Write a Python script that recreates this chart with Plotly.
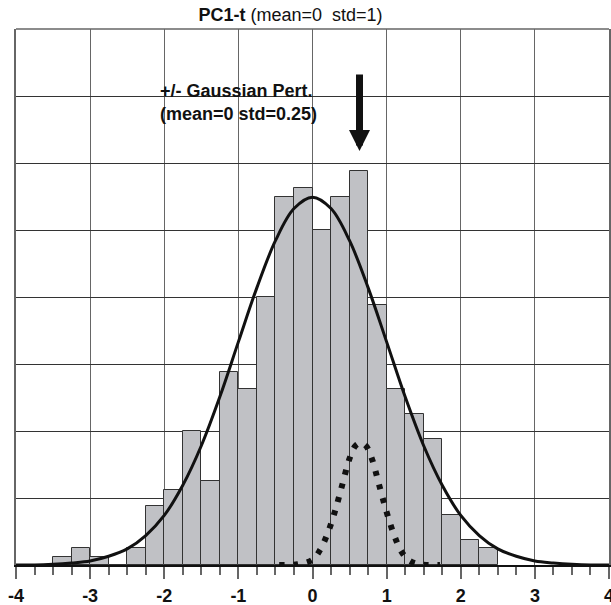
import plotly.graph_objects as go

# Histogram bins (left edges, width 0.25) and bar heights (grid units)
bin_left = [-3.5, -3.25, -3.0, -2.75, -2.5, -2.25, -2.0, -1.75, -1.5, -1.25, -1.0, -0.75,
            -0.5, -0.25, 0.0, 0.25, 0.5, 0.75, 1.0, 1.25, 1.5, 1.75, 2.0, 2.25]
bar_heights = [0.125, 0.25, 0.125, 0.0, 0.25, 0.875, 1.125, 2.0, 1.25, 2.875, 2.625, 4.0,
               5.5, 5.625, 5.0, 5.5, 5.875, 3.875, 2.625, 2.25, 1.875, 0.75, 0.375, 0.25]

# Fitted normal curve (mean=0 std=1)
curve_x = [-4.0, -3.75, -3.5, -3.25, -3.0, -2.75, -2.5, -2.25, -2.0, -1.75, -1.5, -1.25, -1.0,
           -0.75, -0.5, -0.25, 0.0, 0.25, 0.5, 0.75, 1.0, 1.25, 1.5, 1.75, 2.0, 2.25, 2.5,
           2.75, 3.0, 3.25, 3.5, 3.75, 4.0]
curve_y = [0.0, 0.0, 0.01, 0.03, 0.06, 0.13, 0.24, 0.44, 0.74, 1.19, 1.78, 2.51, 3.33,
           4.14, 4.84, 5.32, 5.49, 5.32, 4.84, 4.14, 3.33, 2.51, 1.78, 1.19, 0.74, 0.44, 0.24,
           0.13, 0.06, 0.03, 0.01, 0.0, 0.0]

# Gaussian perturbation curve (dotted)
pert_x = [-0.45, -0.2, 0.0, 0.1, 0.2, 0.3, 0.4, 0.5, 0.58, 0.65, 0.72, 0.8, 0.9, 1.0,
          1.1, 1.2, 1.3, 1.45, 1.72]
pert_y = [0.0, 0.01, 0.08, 0.22, 0.46, 0.79, 1.19, 1.59, 1.78, 1.82, 1.78, 1.59, 1.19, 0.79,
          0.45, 0.2, 0.07, 0.01, 0.0]

x_ticks = [-4, -3, -2, -1, 0, 1, 2, 3, 4]
x_tick_labels = ["-4", "-3", "-2", "-1", "0", "1", "2", "3", "4"]

arrow_x = 0.634
arrow_tip_y = 6.18

FONT = "Liberation Sans, Arial, sans-serif"

fig = go.Figure()
fig.add_trace(go.Bar(
    x=bin_left, y=bar_heights, width=0.25, offset=0,
    marker=dict(color="#c0c1c5", line=dict(color="#333333", width=1)),
    showlegend=False, hoverinfo="skip"))
fig.add_trace(go.Scatter(
    x=curve_x, y=curve_y, mode="lines",
    line=dict(color="#111111", width=3, shape="spline", smoothing=1),
    showlegend=False, hoverinfo="skip"))
fig.add_trace(go.Scatter(
    x=pert_x, y=pert_y, mode="lines",
    line=dict(color="#111111", width=6, shape="spline", smoothing=1, dash="5px,9px"),
    showlegend=False, hoverinfo="skip"))

fig.update_layout(
    width=611, height=605,
    margin=dict(l=16, r=2, t=29, b=40, pad=0, autoexpand=False),
    paper_bgcolor="white", plot_bgcolor="white",
    bargap=0,
    font=dict(family=FONT, size=18, color="#111111"),
    title=dict(text="<b>PC1-t</b> (mean=0&nbsp;&nbsp;std=1)",
               x=290.5 / 611, xanchor="center", xref="container",
               y=1 - 15 / 605, yanchor="middle", yref="container",
               font=dict(family=FONT, size=18, color="#111111")),
    xaxis=dict(range=[-4, 4], tickmode="array", tickvals=x_ticks, ticktext=x_tick_labels,
               automargin=False, ticklabeloverflow="allow",
               showgrid=True, gridcolor="#666666", gridwidth=1,
               zeroline=False, showline=True, linecolor="#111111", linewidth=1.5,
               ticks="outside", ticklen=12, tickwidth=1.5, tickcolor="#666666",
               ticklabelstandoff=2,
               tickfont=dict(family=FONT, size=18, color="#111111", weight="bold"),
               minor=dict(dtick=0.25, tick0=0, ticks="outside", ticklen=8, tickwidth=1.5,
                          tickcolor="#666666", showgrid=False)),
    yaxis=dict(range=[0, 8], dtick=1, tick0=0, showgrid=True, gridcolor="#333333",
               automargin=False,
               gridwidth=1, zeroline=False, showticklabels=False, ticks="",
               showline=True, mirror=True, linecolor="#666666", linewidth=1.5),
    shapes=[dict(type="line", xref="paper", yref="paper", x0=0, x1=1, y0=1, y1=1,
                 line=dict(color="#666666", width=1.5))],
    annotations=[
        dict(x=arrow_x, y=arrow_tip_y, xref="x", yref="y", ax=0, ay=-78,
             showarrow=True, arrowhead=2, arrowwidth=7, arrowsize=0.6,
             arrowcolor="#111111", standoff=0, text=""),
        dict(x=-2.09, y=6.91, xref="x", yref="y", xanchor="left", yanchor="middle",
             align="left", showarrow=False,
             text="<b>+/- Gaussian Pert.<br>(mean=0 std=0.25)</b>",
             font=dict(family=FONT, size=18, color="#111111")),
    ],
)

fig.write_html("out.html", config={"displayModeBar": False},
               post_script="document.body.style.margin='0';document.body.style.padding='0';")
